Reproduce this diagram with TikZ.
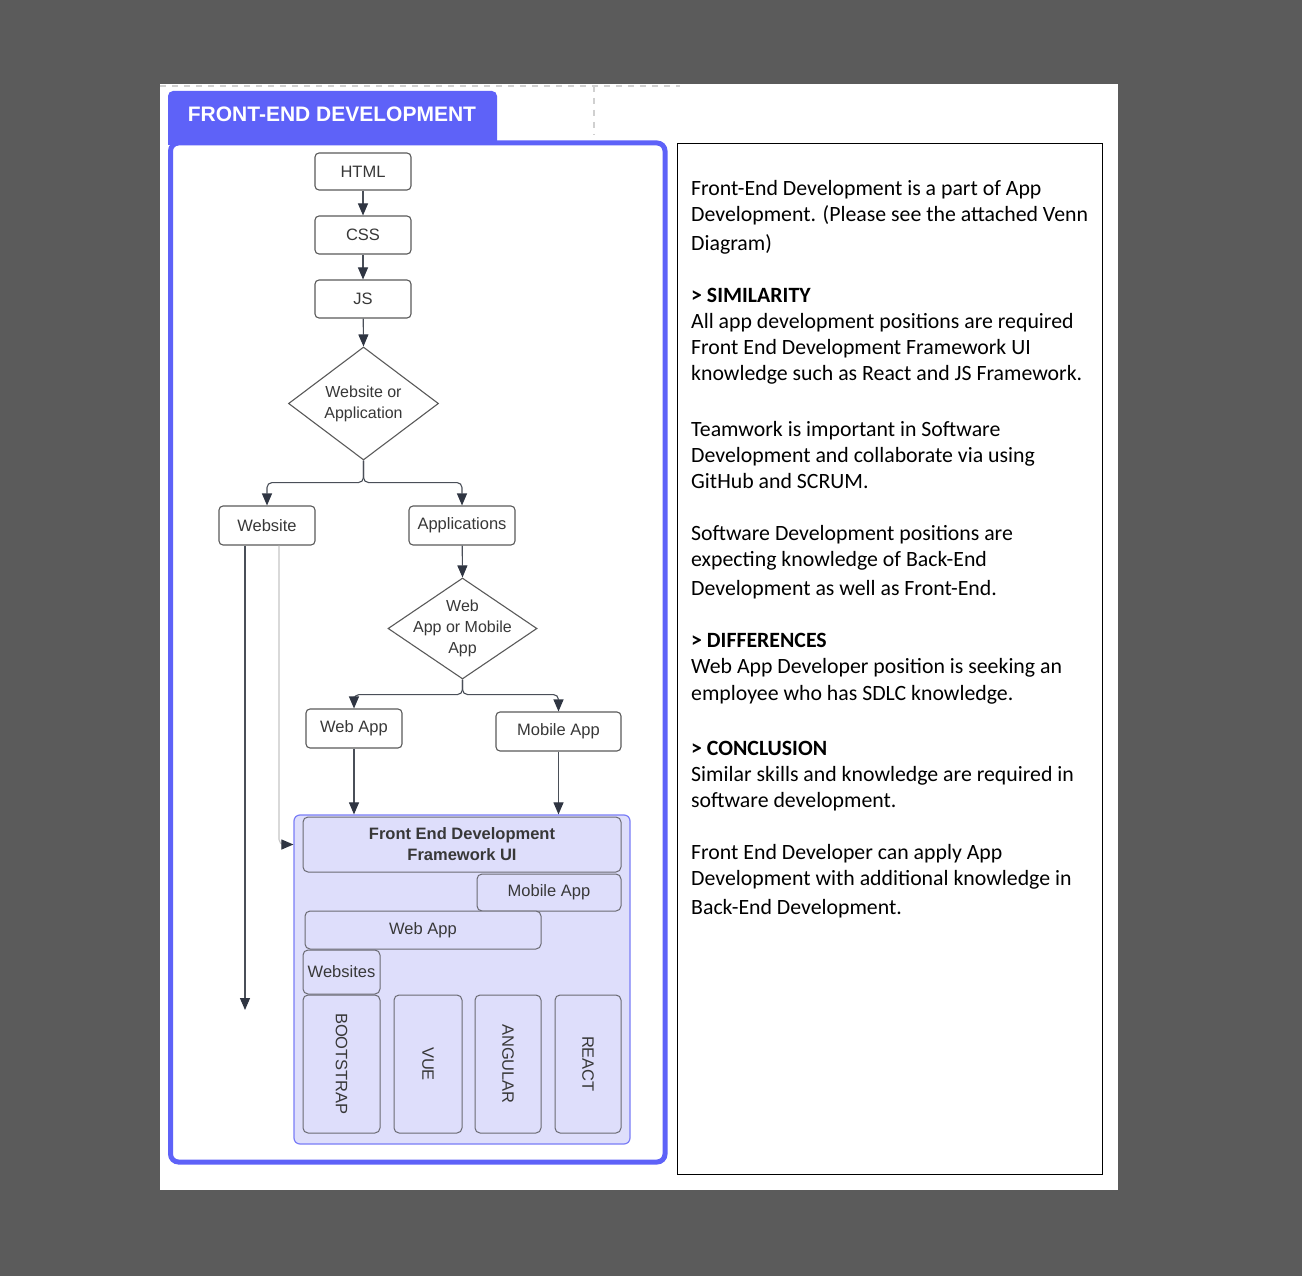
\documentclass[tikz,border=0pt]{standalone}
\usepackage{fontspec}
\setmainfont{Liberation Sans}
\newfontfamily\carl{Carlito}
\usetikzlibrary{shapes.geometric,arrows.meta}
\definecolor{bgdark}{HTML}{5B5B5B}
\definecolor{hdr}{HTML}{5E62F8}
\definecolor{lav}{HTML}{DEDEFB}
\definecolor{lavborder}{HTML}{7A7DF7}
\definecolor{edgec}{HTML}{4A4F58}
\definecolor{tipc}{HTML}{2F3542}
\definecolor{nodeborder}{HTML}{5A5A5A}
\definecolor{innerborder}{HTML}{6A6A72}
\definecolor{txt}{HTML}{383838}
\definecolor{lightedge}{HTML}{C6C6C6}
\definecolor{guidec}{HTML}{D0D0D0}
\begin{document}
\begin{tikzpicture}[x=1pt,y=-1pt,
  box/.style={draw=nodeborder,line width=1.1pt,rounded corners=4pt,fill=white,text=txt,
    font=\fontsize{16.5}{19}\selectfont,inner sep=0pt},
  dia/.style={draw=nodeborder,line width=1.1pt,shape=diamond,fill=white,inner sep=0pt},
  diatext/.style={text=txt,font=\fontsize{16}{21}\selectfont,inner sep=0pt,align=center},
  fbox/.style={draw=innerborder,line width=1pt,rounded corners=5pt,fill=lav,text=txt,
    font=\fontsize{16.5}{19}\selectfont,inner sep=0pt},
  arr/.style={draw=edgec,line width=1.1pt,rounded corners=5pt,-{Triangle[width=10pt,length=12pt,color=tipc]}},
  arrlight/.style={draw=lightedge,line width=1.1pt,rounded corners=5pt,-{Triangle[width=10pt,length=12pt,color=tipc]}},
  guide/.style={draw=guidec,line width=1.2pt,dash pattern=on 6pt off 6pt},
  rt/.style={anchor=base west,inner sep=0pt,font=\carl\fontsize{21.8}{26}\selectfont,text=black}
]
\useasboundingbox (0,0) rectangle (1302,1276);
\fill[bgdark] (0,0) rectangle (1302,1276);
\fill[white] (160,84) rectangle (1118,1190);
% guides
\draw[guide] (160,86) -- (680,86);
\draw[guide] (594,86) -- (594,135);
% header tab
\fill[hdr] (168,145) [rounded corners=5pt] -- (168,91) -- (497,91) [sharp corners] -- (497,145) -- cycle;
\node[font=\bfseries\fontsize{21}{24}\selectfont,text=white] (hdrtxt) at (332,114) {FRONT-END DEVELOPMENT};
% container
\draw[hdr,line width=5pt,rounded corners=8pt] (170.5,143) rectangle (665,1162);
% right box
\draw[black,line width=1.3pt] (677.5,143.5) rectangle (1102.5,1174.5);

% flow nodes
\node[box,minimum width=96pt,minimum height=37pt] (html) at (363,171.5) {HTML};
\node[box,minimum width=96pt,minimum height=38pt] (css) at (363,235) {CSS};
\node[box,minimum width=96pt,minimum height=38pt] (js) at (363,299) {JS};
\node[dia,minimum width=150pt,minimum height=113pt] (d1) at (363.5,403.5) {};
\node[diatext] (d1t) at (d1.center) {Website or\\Application};
\node[box,minimum width=96pt,minimum height=39pt] (website) at (267,525.5) {Website};
\node[box,minimum width=106pt,minimum height=39pt] (apps) at (462,525.5) {Applications};
\node[dia,minimum width=149pt,minimum height=101pt] (d2) at (462.5,628.5) {};
\node[diatext] (d2t) at (d2.center) {Web\\App or Mobile\\App};
\node[box,minimum width=96pt,minimum height=39pt] (webapp) at (354,728.5) {Web App};
\node[box,minimum width=125pt,minimum height=39pt] (mobile) at (558.5,731.5) {Mobile App};

% framework container
\node[draw=lavborder,fill=lav,line width=1.2pt,rounded corners=6pt,minimum width=336pt,minimum height=329pt,inner sep=0pt] (fwc) at (462,979.5) {};
\node[fbox,minimum width=318pt,minimum height=55pt,align=center,font=\bfseries\fontsize{16.5}{21}\selectfont] (fwui) at (462,844.5) {Front End Development\\Framework UI};
\node[fbox,minimum width=144pt,minimum height=37pt] (fmob) at (549,892.5) {Mobile App};
\node[fbox,minimum width=236pt,minimum height=38pt] (fweb) at (423,930) {Web App};
\node[fbox,minimum width=77pt,minimum height=44pt] (fsites) at (341.5,972) {Websites};
\node[fbox,rotate=-90,minimum width=138pt,minimum height=77pt] (boot) at (341.5,1064) {BOOTSTRAP};
\node[fbox,rotate=-90,minimum width=138pt,minimum height=68pt] (vue) at (428,1064) {VUE};
\node[fbox,rotate=-90,minimum width=138pt,minimum height=66pt] (ang) at (508,1064) {ANGULAR};
\node[fbox,rotate=-90,minimum width=138pt,minimum height=66pt] (react) at (588,1064) {REACT};

% connectors
\draw[arr] (html) -- (css);
\draw[arr] (css) -- (js);
\draw[arr] (js) -- (d1.north);
\draw[arr] (d1.south) -- ++(0,22) -| (website.north);
\draw[arr] (d1.south) -- ++(0,22) -| (apps.north);
\draw[arr] (apps) -- (d2.north);
\draw[arr] (d2.south) -- ++(0,15) -| (webapp.north);
\draw[arr] (d2.south) -- ++(0,15) -| (mobile.north);
\draw[arr] (webapp.south) -- (webapp.south |- fwc.north);
\draw[arr] (mobile.south) -- (mobile.south |- fwc.north);
\coordinate (wsend) at (245,1010);
\draw[arr] ([xshift=-22pt]website.south) -- (wsend);
\draw[arrlight] ([xshift=12pt]website.south) |- (fwc.west |- fwui.west);

% right text
\node[rt] (r1) at (691,196) {Front-End Development is a part of App};
\node[rt] (r2) at (691,222) {Development. (Please see the attached Venn};
\node[rt] (r3) at (691,251) {Diagram)};
\node[rt] (r4) at (691,302) {\bfseries > SIMILARITY};
\node[rt] (r5) at (691,328) {All app development positions are required};
\node[rt] (r6) at (691,354) {Front End Development Framework UI};
\node[rt] (r7) at (691,380) {knowledge such as React and JS Framework.};
\node[rt] (r8) at (691,436) {Teamwork is important in Software};
\node[rt] (r9) at (691,462) {Development and collaborate via using};
\node[rt] (r10) at (691,488) {GitHub and SCRUM.};
\node[rt] (r11) at (691,540) {Software Development positions are};
\node[rt] (r12) at (691,566) {expecting knowledge of Back-End};
\node[rt] (r13) at (691,595) {Development as well as Front-End.};
\node[rt] (r14) at (691,647) {\bfseries > DIFFERENCES};
\node[rt] (r15) at (691,673) {Web App Developer position is seeking an};
\node[rt] (r16) at (691,700) {employee who has SDLC knowledge.};
\node[rt] (r17) at (691,755) {\bfseries > CONCLUSION};
\node[rt] (r18) at (691,781) {Similar skills and knowledge are required in};
\node[rt] (r19) at (691,807) {software development.};
\node[rt] (r20) at (691,859) {Front End Developer can apply App};
\node[rt] (r21) at (691,885) {Development with additional knowledge in};
\node[rt] (r22) at (691,914) {Back-End Development.};
\end{tikzpicture}
\end{document}
